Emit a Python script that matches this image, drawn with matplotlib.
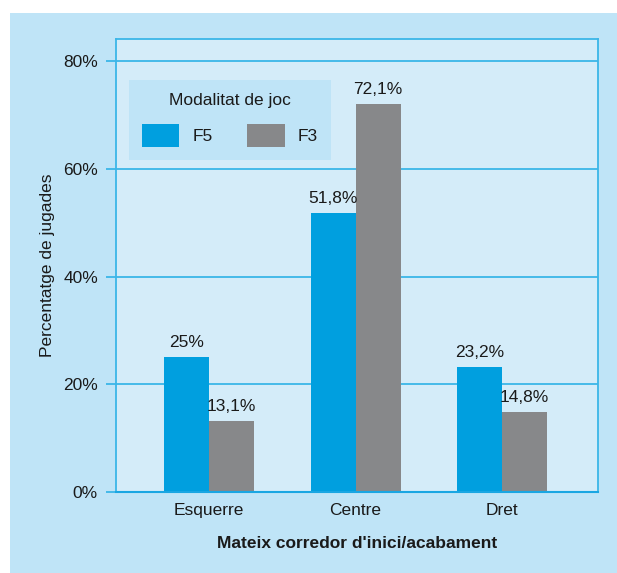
import matplotlib
matplotlib.use("Agg")
import matplotlib.pyplot as plt
import numpy as np
from matplotlib.patches import Rectangle

plt.rcParams['font.family'] = ['Liberation Sans', 'DejaVu Sans']

categories = ["Esquerre", "Centre", "Dret"]
f5_values = [25.0, 51.8, 23.2]
f3_values = [13.1, 72.1, 14.8]
f5_labels = ["25%", "51,8%", "23,2%"]
f3_labels = ["13,1%", "72,1%", "14,8%"]
yticks = [0, 20, 40, 60, 80]
ytick_labels = ["0%", "20%", "40%", "60%", "80%"]

OUTER = "#bfe4f7"
INNER = "#d4ecf9"
LINE = "#3bb6e8"
C_F5 = "#009fdf"
C_F3 = "#87888a"
TXT = "#1a1a1a"
FS = 12.5

W, H = 617, 573
fig = plt.figure(figsize=(W / 100, H / 100), dpi=100, facecolor="white")
fig.patches.append(Rectangle((10 / W, 0), 1 - 10 / W, 1 - 13 / H,
                             transform=fig.transFigure, facecolor=OUTER,
                             edgecolor="none", zorder=-10))

ax = fig.add_axes([116 / W, 1 - 492 / H, (598 - 116) / W, (492 - 39) / H])
ax.set_facecolor(INNER)

x = np.arange(len(categories))
bw = 0.307
b1 = ax.bar(x - bw / 2, f5_values, bw, color=C_F5, label="F5", zorder=3)
b2 = ax.bar(x + bw / 2, f3_values, bw, color=C_F3, label="F3", zorder=3)

for rect, lab in zip(b1, f5_labels):
    ax.annotate(lab, (rect.get_x() + rect.get_width() / 2, rect.get_height()),
                xytext=(0, 5), textcoords="offset points", ha="center",
                va="bottom", fontsize=FS, color=TXT)
for rect, lab in zip(b2, f3_labels):
    ax.annotate(lab, (rect.get_x() + rect.get_width() / 2, rect.get_height()),
                xytext=(0, 5), textcoords="offset points", ha="center",
                va="bottom", fontsize=FS, color=TXT)

ax.set_xlim(-0.635, 2.655)
ax.set_ylim(0, 84.1)
ax.set_yticks(yticks)
ax.set_yticklabels(ytick_labels, fontsize=FS, color=TXT)
ax.set_xticks(x)
ax.set_xticklabels(categories, fontsize=FS, color=TXT)
ax.tick_params(axis="y", length=7.2, width=1.3, color=LINE, pad=5.8)
ax.tick_params(axis="x", length=0, pad=8)
ax.yaxis.grid(True, color=LINE, linewidth=1.3, zorder=1)
ax.set_axisbelow(True)

for s in ["left", "right", "top"]:
    ax.spines[s].set_color(LINE)
    ax.spines[s].set_linewidth(1.3)
ax.spines["bottom"].set_color("#1aa6e2")
ax.spines["bottom"].set_linewidth(1.5)
ax.spines["bottom"].set_zorder(4)

ax.set_ylabel("Percentatge de jugades", fontsize=FS, color=TXT, labelpad=6)
ax.set_xlabel("Mateix corredor d'inici/acabament", fontsize=FS,
              fontweight="bold", color=TXT, labelpad=13)

leg = ax.legend(title="Modalitat de joc", ncol=2, fontsize=FS,
                title_fontsize=FS, loc="upper left",
                bbox_to_anchor=(129 / W, 1 - 80 / H),
                bbox_transform=fig.transFigure,
                frameon=True, fancybox=False, facecolor=OUTER,
                edgecolor="none", framealpha=1,
                handlelength=2.15, handleheight=1.66, handletextpad=0.75,
                columnspacing=2.0, borderpad=0.75, labelspacing=0.9,
                borderaxespad=0)
leg.get_title().set_color(TXT)
for t in leg.get_texts():
    t.set_color(TXT)
leg.set_zorder(5)

fig.savefig("out.png", dpi=100, facecolor="white")
